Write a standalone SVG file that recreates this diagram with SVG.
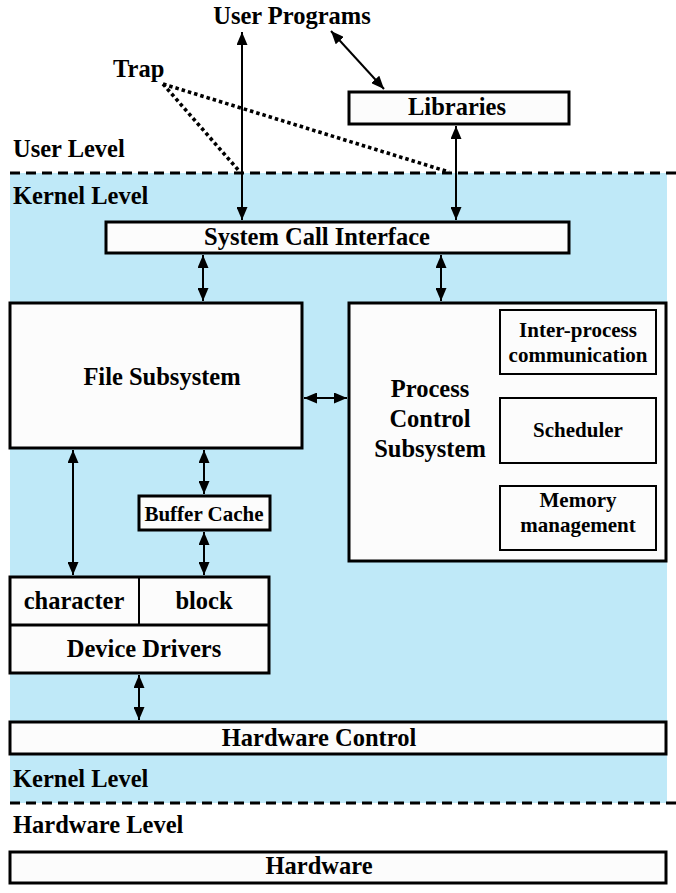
<svg xmlns="http://www.w3.org/2000/svg" width="676" height="893" viewBox="0 0 676 893">
<defs>
<marker id="ah" viewBox="0 0 13 11" refX="13" refY="5.5" markerWidth="13" markerHeight="11" markerUnits="userSpaceOnUse" orient="auto-start-reverse">
<path d="M0,0 L13,5.5 L0,11 Z" fill="#000"/>
</marker>
<style>
text{font-weight:bold;fill:#000}
.l{font-size:24.5px}
.s{font-size:21px}
.m{text-anchor:middle}
.box{fill:#fcfcfc;stroke:#000;stroke-width:3}
.ibox{fill:#fcfcfc;stroke:#000;stroke-width:2}
.arr{stroke:#000;stroke-width:2;fill:none;marker-start:url(#ah);marker-end:url(#ah)}
.dash{stroke:#000;stroke-width:3;stroke-dasharray:10 6;fill:none}
.dot{stroke:#000;stroke-width:3.6;stroke-dasharray:3.5 3;fill:none}
</style>
</defs>
<rect x="10" y="173" width="657" height="630" fill="#bfe9f8"/>
<g font-family="Liberation Serif, Times New Roman, DejaVu Serif, serif">
<g id="levels">
<line class="dash" x1="10" y1="173" x2="676" y2="173"/>
<line class="dash" x1="10" y1="803" x2="676" y2="803"/>
<text class="l" x="13" y="157">User Level</text>
<text class="l" x="13" y="204">Kernel Level</text>
<text class="l" x="13" y="787">Kernel Level</text>
<text class="l" x="13" y="833">Hardware Level</text>
</g>
<g id="user-programs"><text class="l m" x="292" y="24">User Programs</text></g>
<g id="trap"><text class="l" x="113" y="77">Trap</text></g>
<g id="libraries"><rect class="box" x="349" y="92" width="220" height="32"/><text class="l m" x="457" y="115">Libraries</text></g>
<g id="sci"><rect class="box" x="106" y="222" width="463" height="31"/><text class="l m" x="317" y="245">System Call Interface</text></g>
<g id="file-subsystem"><rect class="box" x="10" y="303" width="292" height="145"/><text class="l m" x="162" y="385">File Subsystem</text></g>
<g id="process-control"><rect class="box" x="349" y="303" width="317" height="258"/>
<text class="l m" x="430" y="397">Process</text><text class="l m" x="430" y="427">Control</text><text class="l m" x="430" y="457">Subsystem</text></g>
<g id="ipc"><rect class="ibox" x="500" y="310" width="156" height="64"/><text class="s m" x="578" y="337">Inter-process</text><text class="s m" x="578" y="362">communication</text></g>
<g id="scheduler"><rect class="ibox" x="500" y="398" width="156" height="65"/><text class="s m" x="578" y="437">Scheduler</text></g>
<g id="memory"><rect class="ibox" x="500" y="486" width="156" height="64"/><text class="s m" x="578" y="507">Memory</text><text class="s m" x="578" y="532">management</text></g>
<g id="buffer-cache"><rect class="box" x="139" y="496" width="131" height="34"/><text class="s m" x="204" y="521">Buffer Cache</text></g>
<g id="device-drivers"><rect class="box" x="10" y="577" width="259" height="96"/>
<line x1="10" y1="625" x2="269" y2="625" stroke="#000" stroke-width="3"/>
<line x1="139" y1="577" x2="139" y2="625" stroke="#000" stroke-width="2"/>
<text class="l m" x="74" y="609">character</text><text class="l m" x="204" y="609">block</text><text class="l m" x="144" y="657">Device Drivers</text></g>
<g id="hardware-control"><rect class="box" x="10" y="722" width="656" height="32"/><text class="l m" x="319" y="746">Hardware Control</text></g>
<g id="hardware"><rect class="box" x="10" y="852" width="656" height="31"/><text class="l m" x="319" y="874">Hardware</text></g>
</g>
<g id="connectors">
<line class="arr" x1="242" y1="32" x2="242" y2="220"/>
<line class="arr" x1="331" y1="31" x2="384" y2="89"/>
<line class="arr" x1="456" y1="126" x2="456" y2="220"/>
<line class="dot" x1="163" y1="84" x2="240" y2="172"/>
<line class="dot" x1="163" y1="84" x2="449" y2="172"/>
<line class="arr" x1="203" y1="255" x2="203" y2="301"/>
<line class="arr" x1="441" y1="255" x2="441" y2="301"/>
<line class="arr" x1="304" y1="398" x2="347" y2="398"/>
<line class="arr" x1="73" y1="450" x2="73" y2="575"/>
<line class="arr" x1="204" y1="450" x2="204" y2="494"/>
<line class="arr" x1="204" y1="532" x2="204" y2="575"/>
<line class="arr" x1="139" y1="675" x2="139" y2="720"/>
</g>
</svg>
